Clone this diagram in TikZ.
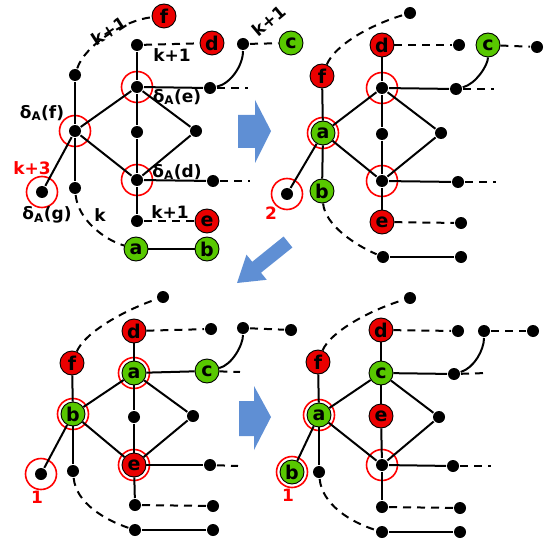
\documentclass[tikz,border=0pt]{standalone}
\usepackage{fontspec}
\setmainfont{DejaVu Sans}
\definecolor{vred}{RGB}{235,0,0}
\definecolor{vgreen}{RGB}{88,200,0}
\definecolor{arrowblue}{RGB}{95,143,212}

\begin{document}
\begin{tikzpicture}[x=1pt,y=-1pt,line width=2pt,
  dot/.style={circle,fill=black,inner sep=0pt,minimum size=12pt},
  vertex/.style={circle,draw=black,line width=0.9pt,inner sep=0pt,minimum size=24pt,font=\fontsize{19}{19}\selectfont\bfseries},
  red vertex/.style={vertex,fill=vred},
  green vertex/.style={vertex,fill=vgreen},
  ring/.style={circle,draw=red,line width=1.6pt,inner sep=0pt,minimum size=31pt},
  lbl/.style={font=\fontsize{17}{17}\selectfont\bfseries,inner sep=0pt},
  red lbl/.style={lbl,text=red},
  dashline/.style={dash pattern=on 8pt off 6pt},
  big arrow/.style={fill=arrowblue}]

  \useasboundingbox (0,0) rectangle (545,545);

  % panel 1
  \node[red vertex]   (1) at (164,16) {f};
  \node[dot]          (2) at (137,45) {};
  \node[red vertex]   (3) at (212,43) {d};
  \node[dot]          (4) at (243,44) {};
  \node[green vertex] (5) at (291,43) {c};
  \node[dot]          (6) at (75,75) {};
  \node[dot]          (7) at (137,87) {};
  \node[dot]          (8) at (210,88) {};
  \coordinate         (8e) at (248,88);
  \node[dot]          (9) at (75,131) {};
  \node[dot]         (10) at (137,132) {};
  \node[dot]         (11) at (196,131) {};
  \node[dot]         (12) at (137,180) {};
  \node[dot]         (13) at (213,181) {};
  \coordinate        (13e) at (250,181);
  \node[dot]         (14) at (42,192) {};
  \node[dot]         (15) at (75,188) {};
  \node[dot]         (16) at (137,221) {};
  \node[red vertex]  (17) at (207,221) {e};
  \node[green vertex] (18) at (136,249) {a};
  \node[green vertex] (19) at (207,249) {b};

  \node[ring] (r7) at (7) {};
  \node[ring] (r9) at (9) {};
  \node[ring] (r12) at (12) {};
  \node[ring] (r14) at (14) {};

  \node[lbl] (l1) at (42,113) {δ\textsubscript{A}(f)};
  \node[lbl] (l2) at (177,97) {δ\textsubscript{A}(e)};
  \node[lbl] (l3) at (177,172) {δ\textsubscript{A}(d)};
  \node[lbl] (l4) at (47,215) {δ\textsubscript{A}(g)};
  \node[red lbl] (l5) at (32,168) {k+3};
  \node[lbl,rotate=33] (l6) at (109,31) {k+1};
  \node[lbl] (l7) at (172,55) {k+1};
  \node[lbl,rotate=40] (l8) at (269,21) {k+1};
  \node[lbl] (l9) at (100,215) {k};
  \node[lbl] (l10) at (170,212) {k+1};

  \path
    (2) edge (7)
    (7) edge (10)
    (10) edge (12)
    (12) edge (16)
    (6) edge (9)
    (9) edge (15)
    (7) edge (8)
    (7) edge (9)
    (7) edge (11)
    (11) edge (12)
    (9) edge (12)
    (9) edge (14)
    (12) edge (13)
    (18) edge (19)
    (2) edge[dashline] (3)
    (4) edge[dashline] (5)
    (8) edge[dashline] (8e)
    (13) edge[dashline] (13e)
    (16) edge[dashline] (17);
  \draw[dashline] (6) .. controls (85,45) and (125,20) .. (1);
  \draw[dashline] (15) .. controls (78,220) and (105,240) .. (18);
  \draw (8) .. controls (230,84) and (243,66) .. (4);

  % panel 2
  \node[dot]         (21) at (410,13) {};
  \node[red vertex]  (22) at (382,45) {d};
  \node[dot]         (23) at (459,45) {};
  \node[green vertex] (24) at (488,45) {c};
  \node[dot]         (25) at (537,47) {};
  \node[red vertex]  (26) at (322,76) {f};
  \node[dot]         (27) at (382,88) {};
  \node[dot]         (28) at (456,89) {};
  \coordinate        (28e) at (494,89);
  \node[green vertex] (29) at (323,133) {a};
  \node[dot]         (30) at (382,134) {};
  \node[dot]         (31) at (441,133) {};
  \node[dot]         (32) at (382,181) {};
  \node[dot]         (33) at (458,182) {};
  \coordinate        (33e) at (496,182);
  \node[dot]         (34) at (287,194) {};
  \node[green vertex] (35) at (322,191) {b};
  \node[red vertex]  (36) at (382,222) {e};
  \node[dot]         (37) at (461,223) {};
  \node[dot]         (38) at (383,257) {};
  \node[dot]         (39) at (461,257) {};

  \node[ring] (r27) at (27) {};
  \node[ring] (r29) at (29) {};
  \node[ring] (r32) at (32) {};
  \node[ring] (r34) at (34) {};
  \node[red lbl] (l21) at (271,213) {2};

  \path
    (22) edge (27)
    (27) edge (30)
    (30) edge (32)
    (32) edge (36)
    (26) edge (29)
    (29) edge (35)
    (29) edge (27)
    (29) edge (32)
    (27) edge (31)
    (31) edge (32)
    (29) edge (34)
    (27) edge (28)
    (32) edge (33)
    (38) edge (39)
    (22) edge[dashline] (23)
    (24) edge[dashline] (25)
    (28) edge[dashline] (28e)
    (33) edge[dashline] (33e)
    (36) edge[dashline] (37);
  \draw[dashline] (26) .. controls (335,45) and (370,25) .. (21);
  \draw[dashline] (35) .. controls (325,225) and (355,245) .. (38);
  \draw (28) .. controls (476,84) and (488,65) .. (24);

  % panel 3
  \node[dot]         (41) at (163,297) {};
  \node[red vertex]  (42) at (134,331) {d};
  \node[dot]         (43) at (211,329) {};
  \node[dot]         (44) at (243,328) {};
  \node[dot]         (45) at (291,330) {};
  \node[red vertex]  (46) at (72,363) {f};
  \node[green vertex] (47) at (134,373) {a};
  \node[green vertex] (48) at (207,371) {c};
  \coordinate        (48e) at (240,372);
  \node[green vertex] (49) at (73,414) {b};
  \node[dot]         (50) at (134,417) {};
  \node[dot]         (51) at (193,416) {};
  \node[red vertex]  (52) at (134,465) {e};
  \node[dot]         (53) at (210,465) {};
  \coordinate        (53e) at (238,466);
  \node[dot]         (54) at (41,474) {};
  \node[dot]         (55) at (73,471) {};
  \node[dot]         (56) at (135,505) {};
  \node[dot]         (57) at (213,506) {};
  \node[dot]         (58) at (135,530) {};
  \node[dot]         (59) at (213,530) {};

  \node[ring] (r47) at (47) {};
  \node[ring] (r49) at (49) {};
  \node[ring] (r52) at (52) {};
  \node[ring] (r54) at (54) {};
  \node[red lbl] (l41) at (37,497) {1};

  \path
    (42) edge (47)
    (47) edge (50)
    (50) edge (52)
    (52) edge (56)
    (46) edge (49)
    (49) edge (55)
    (49) edge (47)
    (49) edge (52)
    (47) edge (51)
    (51) edge (52)
    (49) edge (54)
    (47) edge (48)
    (52) edge (53)
    (58) edge (59)
    (42) edge[dashline] (43)
    (44) edge[dashline] (45)
    (48) edge[dashline] (48e)
    (53) edge[dashline] (53e)
    (56) edge[dashline] (57);
  \draw[dashline] (46) .. controls (85,332) and (125,310) .. (41);
  \draw[dashline] (55) .. controls (76,503) and (105,520) .. (58);
  \draw (48) .. controls (232,365) and (243,345) .. (44);

  % panel 4
  \node[dot]         (61) at (410,298) {};
  \node[red vertex]  (62) at (381,330) {d};
  \node[dot]         (63) at (458,331) {};
  \node[dot]         (64) at (484,331) {};
  \node[dot]         (65) at (533,331) {};
  \node[red vertex]  (66) at (318,362) {f};
  \node[green vertex] (67) at (381,373) {c};
  \node[dot]         (68) at (454,374) {};
  \coordinate        (68e) at (488,373);
  \node[green vertex] (69) at (319,415) {a};
  \node[red vertex]  (70) at (381,416) {e};
  \node[dot]         (71) at (439,417) {};
  \node[dot]         (72) at (382,465) {};
  \node[dot]         (73) at (453,466) {};
  \coordinate        (73e) at (491,466);
  \node[green vertex] (74) at (292,472) {b};
  \node[dot]         (75) at (319,472) {};
  \node[dot]         (76) at (382,507) {};
  \node[dot]         (77) at (460,508) {};
  \node[dot]         (78) at (382,532) {};
  \node[dot]         (79) at (460,532) {};

  \node[ring] (r69) at (69) {};
  \node[ring] (r72) at (72) {};
  \node[ring] (r74) at (74) {};
  \node[red lbl] (l61) at (288,495) {1};

  \path
    (62) edge (67)
    (67) edge (70)
    (70) edge (72)
    (72) edge (76)
    (66) edge (69)
    (69) edge (75)
    (69) edge (67)
    (69) edge (72)
    (67) edge (71)
    (71) edge (72)
    (69) edge (74)
    (67) edge (68)
    (72) edge (73)
    (78) edge (79)
    (62) edge[dashline] (63)
    (64) edge[dashline] (65)
    (68) edge[dashline] (68e)
    (73) edge[dashline] (73e)
    (76) edge[dashline] (77);
  \draw[dashline] (66) .. controls (330,332) and (370,310) .. (61);
  \draw[dashline] (75) .. controls (322,504) and (350,522) .. (78);
  \draw (68) .. controls (474,368) and (484,350) .. (64);

  % block arrows
  \fill[big arrow] (238,115) -- (255,115) -- (255,100) -- (271,131) -- (255,163) -- (255,148) -- (238,148) -- cycle;
  \fill[big arrow] (239,401) -- (254,401) -- (254,386) -- (271,417) -- (254,450) -- (254,436) -- (239,436) -- cycle;
  \fill[big arrow] (283.6,236.5) -- (252.2,261.8) -- (246.5,254.7) -- (237,283) -- (266.7,279.8) -- (261.0,272.7) -- (292.4,247.5) -- cycle;

\end{tikzpicture}
\end{document}
